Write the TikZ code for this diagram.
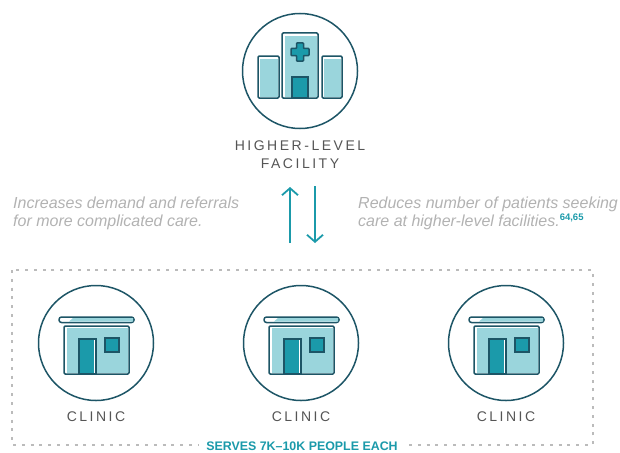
\documentclass[tikz,border=0pt]{standalone}
\usepackage{fontspec}
\setmainfont{Liberation Sans}
\newfontfamily\trackfont[LetterSpace=18]{Liberation Sans}
\usetikzlibrary{arrows.meta}
\usetikzlibrary{positioning}
\definecolor{inkdark}{HTML}{1D5566}
\definecolor{tealmid}{HTML}{1B9AAA}
\definecolor{tealpale}{HTML}{9AD5DC}
\definecolor{textgrey}{HTML}{555555}
\definecolor{notegrey}{HTML}{B2B2B2}
\definecolor{dotgrey}{HTML}{BBBBBB}
\tikzstyle{ring} = [circle, minimum size=115pt, inner sep=0pt, draw=inkdark, line width=1.5pt]
\tikzstyle{part} = [draw=inkdark, line width=1.5pt, rounded corners=1.2pt]
\tikzstyle{caption} = [text=textgrey, align=center, inner sep=0pt, font=\fontsize{14}{18}\selectfont\trackfont]
\tikzstyle{note} = [text=notegrey, align=left, inner sep=0pt, anchor=west, font=\fontsize{16}{18}\selectfont\itshape]
\tikzstyle{flow} = [draw=tealmid, line width=1.8pt, -{Straight Barb[length=7pt,width=16pt]}]
% one clinic icon, drawn around the centre of its ring
\newcommand{\clinicicon}[1]{
\begin{scope}[shift={(#1.center)}]
 \draw[part, fill=white, rounded corners=2.5pt] (-37,-26) rectangle (38,-20.5);
 \fill[tealpale] (-23,-25) -- (37,-25) -- (37,-21.5) -- (-27,-21.5) -- cycle;
 \draw[part, fill=white] (-32,-17) rectangle (33,31);
 \fill[tealpale] (-29,-15.5) rectangle (32,30);
 \draw[part, fill=white, rounded corners=0pt] (-17,-4) rectangle (0,31);
 \fill[tealmid] (-16,-3) rectangle (-2,30);
 \draw[part, fill=tealmid, rounded corners=0pt] (9,-5) rectangle (23,9);
\end{scope}
}
\begin{document}
\begin{tikzpicture}[x=1pt, y=-1pt]
\useasboundingbox (0,0) rectangle (620,452);

% the box round the clinics
\draw[dotgrey, line width=1.4pt, dash pattern=on 3pt off 5.8pt] (12,270) rectangle (593,445);

\node (hub) [ring] at (300,71) {};
\node (clinicA) [ring] at (96,343) {};
\node (clinicB) [ring] at (301,343) {};
\node (clinicC) [ring] at (506,343) {};

% hospital
\draw[part, fill=white] (258,56) rectangle (279,98);
\fill[tealpale] (260,58.5) rectangle (278,97);
\draw[part, fill=white] (322,56) rectangle (342,98);
\fill[tealpale] (323.5,58.5) rectangle (341,97);
\draw[part, fill=white] (282,33) rectangle (318,98);
\fill[tealpale] (285,36) rectangle (317,97);
\draw[part, fill=tealmid, rounded corners=0pt] (292,77) rectangle (308,98);
\draw[part, fill=tealmid, rounded corners=0.8pt] (296.5,43) -- (303.5,43) -- (303.5,48.5) -- (309,48.5) -- (309,55.5)
 -- (303.5,55.5) -- (303.5,61) -- (296.5,61) -- (296.5,55.5) -- (291,55.5) -- (291,48.5) -- (296.5,48.5) -- cycle;

\clinicicon{clinicA}
\clinicicon{clinicB}
\clinicicon{clinicC}

\node (hublabel) [caption, below=11pt of hub] {HIGHER-LEVEL\\FACILITY};
\node (labelA) [caption, below=10pt of clinicA] {CLINIC};
\node (labelB) [caption, below=10pt of clinicB] {CLINIC};
\node (labelC) [caption, below=10pt of clinicC] {CLINIC};

\node (noteup) [note] at (13,213.5) {Increases demand and referrals\\for more complicated care.};
\node (notedown) [note] at (358,213.5) {Reduces number of patients seeking\\care at higher-level facilities.\raisebox{6pt}{\fontsize{9.5}{10}\selectfont\upshape\bfseries\textcolor{tealmid}{64,65}}};

\coordinate (upfoot) at (290,243);
\coordinate (uphead) at (290,187);
\coordinate (downfoot) at (315,186);
\coordinate (downhead) at (315,243);
\draw[flow] (upfoot) -- (uphead);
\draw[flow] (downfoot) -- (downhead);

\node (serves) [fill=white, text=tealmid, inner xsep=7pt, inner ysep=2pt, font=\fontsize{12.4}{14}\selectfont\bfseries] at (302,446) {SERVES 7K–10K PEOPLE EACH};
\end{tikzpicture}
\end{document}
